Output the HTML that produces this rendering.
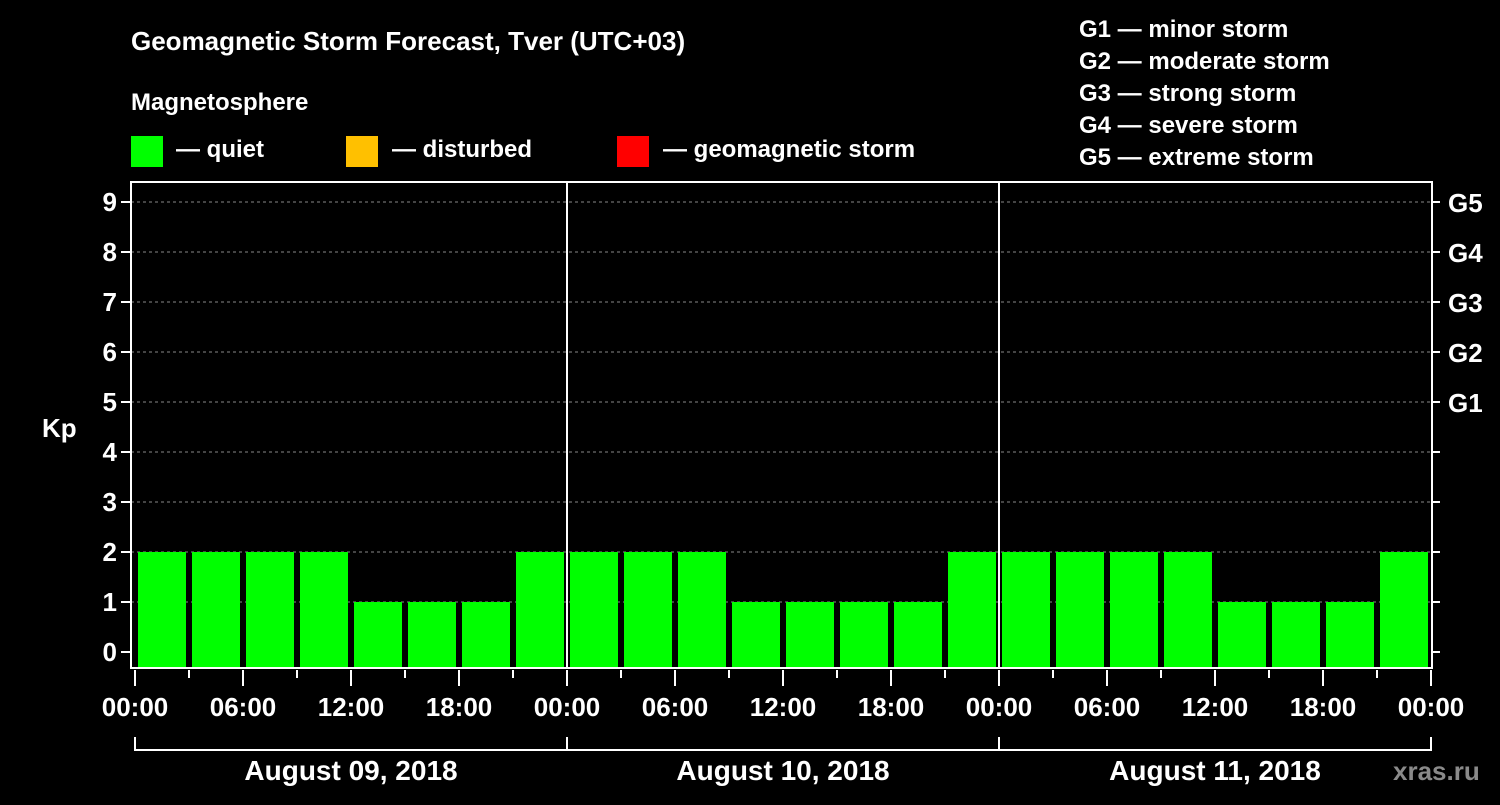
<!DOCTYPE html>
<html><head><meta charset="utf-8"><style>
body{margin:0;background:#000;width:1500px;height:800px;overflow:hidden}
text{font-family:"Liberation Sans",Arial,sans-serif;font-weight:bold;fill:#fff}
</style></head><body>
<svg id="c" width="1500" height="800">
<text x="131" y="50" font-size="26">Geomagnetic Storm Forecast, Tver (UTC+03)</text>
<text x="131" y="110" font-size="24">Magnetosphere</text>
<g><rect x="131" y="136" width="32" height="31" fill="#00ff00"/><text x="176" y="157" font-size="24">— quiet</text></g>
<g><rect x="346" y="136" width="32" height="31" fill="#ffc000"/><text x="392" y="157" font-size="24">— disturbed</text></g>
<g><rect x="617" y="136" width="32" height="31" fill="#ff0000"/><text x="663" y="157" font-size="24">— geomagnetic storm</text></g>
<g font-size="24">
<text x="1079" y="37" font-size="24">G1 — minor storm</text>
<text x="1079" y="69" font-size="24">G2 — moderate storm</text>
<text x="1079" y="101" font-size="24">G3 — strong storm</text>
<text x="1079" y="133" font-size="24">G4 — severe storm</text>
<text x="1079" y="165" font-size="24">G5 — extreme storm</text>
</g>
<text x="42" y="437" font-size="26">Kp</text>
<text x="1393" y="780" font-size="26" fill="#777" style="fill:#8a8a8a">xras.ru</text>
<g id="grid"></g><g id="bars"></g><g id="axes"></g>
</svg>
<script>
const kpValues=[2,2,2,2,1,1,1,2, 2,2,2,1,1,1,1,2, 2,2,2,2,1,1,1,2];
const dayLabels=["August 09, 2018","August 10, 2018","August 11, 2018"];
const hourLabels=["00:00","06:00","12:00","18:00"];
const gLabels=["G1","G2","G3","G4","G5"];
const NS="http://www.w3.org/2000/svg";
const X0=135,PXH=18,Y0=652,PXK=50,L=131,R=1432,T=182,B=668;
const xs=h=>X0+h*PXH, ys=k=>Y0-k*PXK;
function mk(tag,at,parent,txt){const e=document.createElementNS(NS,tag);for(const k in at)e.setAttribute(k,at[k]);if(txt!==undefined)e.textContent=txt;document.getElementById(parent).appendChild(e);return e;}
for(let k=0;k<=9;k++){
 if(k>0){const g=mk('line',{x1:L,x2:R,y1:ys(k),y2:ys(k),stroke:'#888','stroke-dasharray':'3,3','stroke-width':1},'grid');
 
 }
 const t=mk('line',{x1:L-10,x2:L,y1:ys(k),y2:ys(k),stroke:'#fff','stroke-width':2},'axes');
 
 
 const t2=mk('line',{x1:R,x2:R+8,y1:ys(k),y2:ys(k),stroke:'#fff','stroke-width':2},'axes');
 
 
 const l=mk('text',{x:L-14,y:ys(k)+9,'text-anchor':'end','font-size':26},'axes',String(k));
 
 
}
gLabels.forEach((g,i)=>{const t=mk('text',{x:1448,y:ys(5+i)+10,'font-size':26},'axes',g);
 
 });
kpValues.forEach((v,i)=>{const r=mk('rect',{x:xs(i*3)+3,y:ys(v),width:48,height:B-ys(v),fill:v>=5?'#ff0000':(v>=4?'#ffc000':'#00ff00')},'bars');
 
 });
const fr=mk('rect',{x:L,y:T,width:R-L,height:B-T,fill:'none',stroke:'#fff','stroke-width':2},'axes');


for(let d=1;d<dayLabels.length;d++){const s=mk('line',{x1:xs(d*24),x2:xs(d*24),y1:T,y2:B,stroke:'#fff','stroke-width':2},'axes');
 
 }
for(let h=0;h<=72;h+=3){const major=h%6===0;
 const t=mk('line',{x1:xs(h),x2:xs(h),y1:B+2,y2:major?B+18:B+10,stroke:'#fff','stroke-width':2},'axes');
 
 
 if(major){const l=mk('text',{x:xs(h),y:716,'text-anchor':'middle','font-size':26},'axes',hourLabels[(h/6)%4]);
 
 }}
dayLabels.forEach((d,i)=>{const a=xs(i*24),b=xs(i*24+24);
 const p=mk('path',{d:`M${a},737V750H${b}V737`,fill:'none',stroke:'#fff','stroke-width':2},'axes');
 
 
 const l=mk('text',{x:(a+b)/2,y:780,'text-anchor':'middle','font-size':28},'axes',d);
 
 });
</script>
</body></html>
